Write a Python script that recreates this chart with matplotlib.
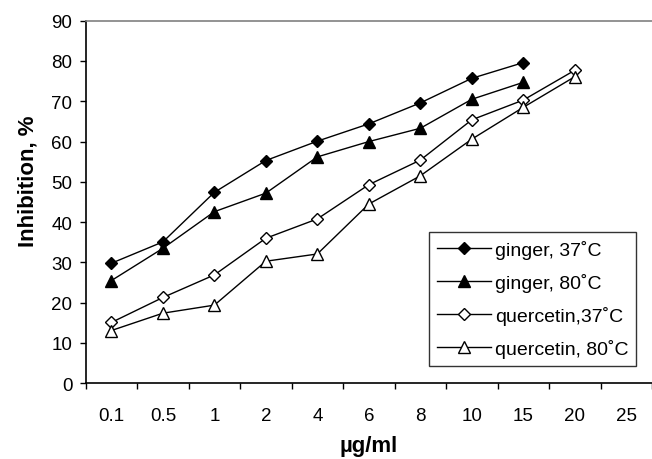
import matplotlib
matplotlib.use('Agg')
import matplotlib.pyplot as plt

plt.rcParams['font.family'] = ['Liberation Sans', 'DejaVu Sans']

doses = ['0.1', '0.5', '1', '2', '4', '6', '8', '10', '15', '20', '25']
ginger_37 = [29.8, 35.1, 47.4, 55.3, 60.1, 64.4, 69.6, 75.7, 79.6]
ginger_80 = [25.5, 33.5, 42.6, 47.2, 56.2, 60.0, 63.3, 70.5, 74.7]
quercetin_37 = [15.1, 21.3, 26.9, 36.0, 40.8, 49.3, 55.4, 65.4, 70.3, 77.7]
quercetin_80 = [13.1, 17.4, 19.4, 30.3, 32.1, 44.5, 51.5, 60.6, 68.5, 76.1]

fig = plt.figure(figsize=(6.52, 4.6), dpi=100)
ax = fig.add_axes([0.1314, 0.1646, 0.8686, 0.7882])

LW = 1.0
MS_D = 6.5
MS_T = 8
TICK_SIZE = 13.5
LEGEND_SIZE = 14
LABEL_SIZE = 16

ax.plot(range(len(ginger_37)), ginger_37, 'k-', marker='D', ms=MS_D, mfc='black', mec='black',
        lw=LW, label='ginger, 37˚C')
ax.plot(range(len(ginger_80)), ginger_80, 'k-', marker='^', ms=MS_T, mfc='black', mec='black',
        lw=LW, label='ginger, 80˚C')
ax.plot(range(len(quercetin_37)), quercetin_37, 'k-', marker='D', ms=MS_D, mfc='white', mec='black',
        mew=1.0, lw=LW, label='quercetin,37˚C')
ax.plot(range(len(quercetin_80)), quercetin_80, 'k-', marker='^', ms=MS_T, mfc='white', mec='black',
        mew=1.0, lw=LW, label='quercetin, 80˚C')

ax.set_xlim(-0.5, len(doses) - 0.5)
ax.set_ylim(0, 90)
ax.set_yticks(range(0, 91, 10))

# category boundaries get the tick marks, labels sit between them
ax.set_xticks([i - 0.5 for i in range(len(doses) + 1)])
ax.set_xticklabels([])
ax.set_xticks(range(len(doses)), minor=True)
ax.set_xticklabels(doses, minor=True)
ax.tick_params(axis='x', which='major', direction='out', length=4.5, width=1, color='black')
ax.tick_params(axis='x', which='minor', length=0, pad=17, labelsize=TICK_SIZE)
ax.tick_params(axis='y', direction='out', length=4.5, width=1, pad=5, labelsize=TICK_SIZE)

ax.spines['left'].set_linewidth(1.2)
ax.spines['bottom'].set_linewidth(1.2)
ax.spines['top'].set_color('#808080')
ax.spines['top'].set_linewidth(1.2)
ax.spines['right'].set_visible(False)

ax.set_xlabel('µg/ml', fontsize=LABEL_SIZE, fontweight='bold', labelpad=8)
ax.set_ylabel('Inhibition, %', fontsize=LABEL_SIZE, fontweight='bold')
ax.yaxis.set_label_coords(-0.084, 0.56)

leg = ax.legend(loc='lower right', bbox_to_anchor=(0.972, 0.048), borderaxespad=0,
                fontsize=LEGEND_SIZE, frameon=True, fancybox=False, handlelength=2.8,
                handletextpad=0.2, labelspacing=0.72, borderpad=0.4)
leg.get_frame().set_edgecolor('black')
leg.get_frame().set_linewidth(1.0)

fig.savefig('out.png', dpi=100)
